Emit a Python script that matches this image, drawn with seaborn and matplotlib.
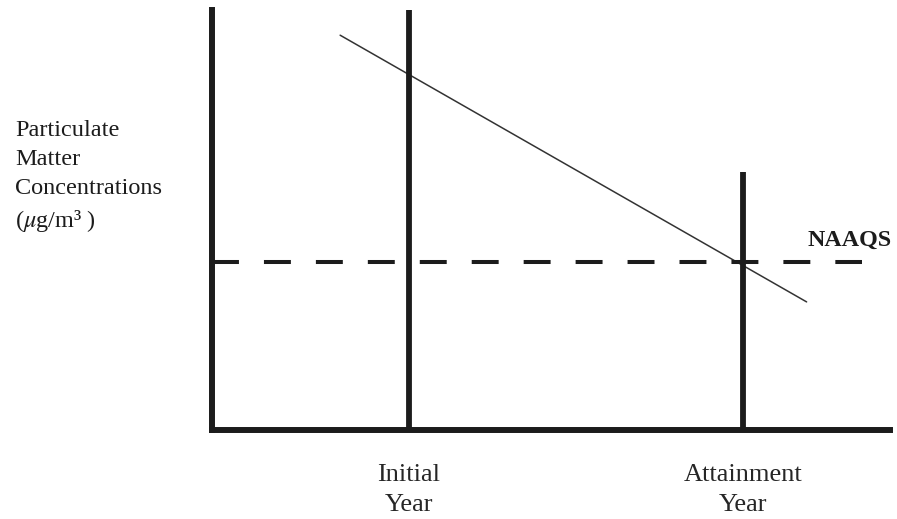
import matplotlib
matplotlib.use("Agg")
import matplotlib.pyplot as plt
import seaborn as sns
import pandas as pd

# ---- data (axis units 0..10) ----
year_labels = ["Initial\nYear", "Attainment\nYear"]
year_positions = [2.90, 7.83]
year_line_tops = [10.0, 6.14]
trend_x = [1.89, 8.77]
trend_y = [9.40, 3.05]
naaqs_level = 4.0
naaqs_end = 9.58
naaqs_label = "NAAQS"
y_label = "Particulate\nMatter\nConcentrations\n($\\mu$g/m³ )"

sns.set_style("white")
plt.rcParams["font.family"] = ["Liberation Serif", "DejaVu Serif"]
plt.rcParams["mathtext.fontset"] = "stix"

ink = "#1c1c1c"
fig = plt.figure(figsize=(8.97, 5.19), dpi=100)
ax = fig.add_axes([212 / 897, 89 / 519, 678 / 897, 420 / 519])
ax.set_xlim(0, 10)
ax.set_ylim(0, 10)

trend = pd.DataFrame({"x": trend_x, "y": trend_y})
sns.lineplot(data=trend, x="x", y="y", ax=ax, color="#333333", linewidth=1.1)

ax.plot([0, naaqs_end], [naaqs_level, naaqs_level], color=ink, linewidth=2.9,
        dashes=(19.4 / 2.9, 18.0 / 2.9), dash_capstyle="butt", solid_capstyle="butt")

for xp, top in zip(year_positions, year_line_tops):
    ax.plot([xp, xp], [0, top], color=ink, linewidth=4.2, solid_capstyle="butt")

for s in ["top", "right"]:
    ax.spines[s].set_visible(False)
for s in ["left", "bottom"]:
    ax.spines[s].set_linewidth(4.3)
    ax.spines[s].set_color(ink)

ax.set_xticks(year_positions)
ax.set_xticklabels(year_labels, fontsize=19, linespacing=1.45)
ax.tick_params(axis="x", length=0, pad=24.5)
ax.set_yticks([])
ax.set_xlabel("")
ax.set_ylabel("")

ax.text(8.78, naaqs_level + 0.52, naaqs_label, fontsize=17.3, fontweight="bold",
        ha="left", va="center", color=ink)

fig.text(15 / 897, 1 - 177 / 519, y_label, fontsize=17.5, ha="left", va="center",
         linespacing=1.5, color=ink)

fig.savefig("out.png", dpi=100)
